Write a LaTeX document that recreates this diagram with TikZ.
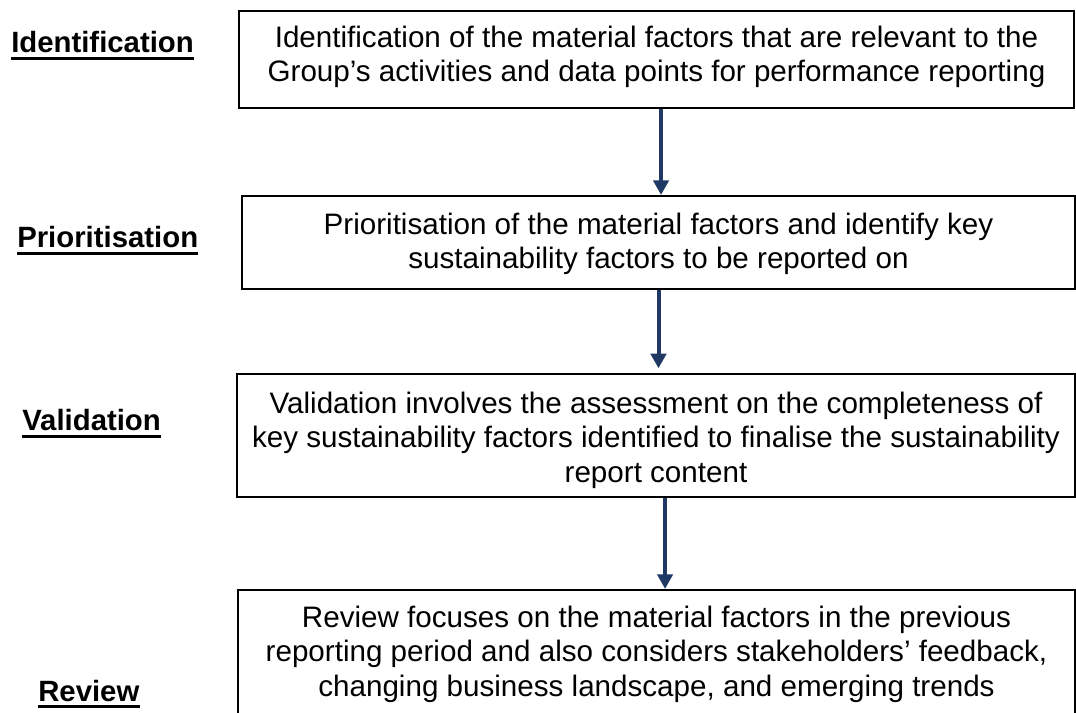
\documentclass[tikz,border=0pt]{standalone}
\usepackage{fontspec}
\setmainfont{Liberation Sans}
\usetikzlibrary{arrows.meta}

\definecolor{flowblue}{RGB}{31,56,100}

\begin{document}
\begin{tikzpicture}[x=0.75pt,y=-0.75pt,
        stepbox/.style={draw,line width=1.6pt,inner sep=0pt},
        steptext/.style={font=\fontsize{22.2}{25.8}\selectfont,align=center,anchor=base,inner sep=0pt},
        stagelabel/.style={font=\fontsize{22}{25.8}\selectfont\bfseries,anchor=base west,inner sep=0pt},
        underbar/.style={line width=2.2pt},
        flow/.style={draw=flowblue,line width=3pt,-{Triangle[width=11.5pt,length=11pt]}}]

        \useasboundingbox (0,0) rectangle (1076,713);

        % Boxes
        \node[stepbox,minimum width=626.25pt,minimum height=72.75pt] (idbox) at (656.5,59.5) {};
        \node[stepbox,minimum width=624.75pt,minimum height=69.75pt] (prbox) at (658.5,242.5) {};
        \node[stepbox,minimum width=628.5pt,minimum height=92.25pt] (vabox) at (656,435.5) {};
        \node[stepbox,minimum width=627.75pt,minimum height=108.75pt] (rvbox) at (656.5,662.5) {};

        % Box texts (placed at the baseline of their last line)
        \node[steptext] (idtext) at (656.5,82) {Identification of the material factors that are relevant to the\\Group’s activities and data points for performance reporting};
        \node[steptext] (prtext) at (658.5,269) {Prioritisation of the material factors and identify key\\sustainability factors to be reported on};
        \node[steptext] (vatext) at (656,482) {Validation involves the assessment on the completeness of\\key sustainability factors identified to finalise the sustainability\\report content};
        \node[steptext] (rvtext) at (656.5,696) {Review focuses on the material factors in the previous\\reporting period and also considers stakeholders’ feedback,\\changing business landscape, and emerging trends};

        % Stage labels (underlined)
        \node[stagelabel] (idlabel) at (11,53) {Identification};
        \node[stagelabel] (prlabel) at (17,248) {Prioritisation};
        \node[stagelabel] (valabel) at (22,431) {Validation};
        \node[stagelabel] (rvlabel) at (38,701) {Review};
        \foreach \lbl in {idlabel,prlabel,valabel,rvlabel}
            \draw[underbar] ([yshift=-3.8pt]\lbl.base west) -- ([yshift=-3.8pt]\lbl.base east);

        % Arrows between the boxes
        \draw[flow] ([xshift=3.4pt]idbox.south) -- ([xshift=3.4pt]idbox.south |- prbox.north);
        \draw[flow,shorten >=3.5pt] (prbox.south) -- (prbox.south |- vabox.north);
        \draw[flow] ([xshift=6.8pt]vabox.south) -- ([xshift=6.8pt]vabox.south |- rvbox.north);

    \end{tikzpicture}
\end{document}
